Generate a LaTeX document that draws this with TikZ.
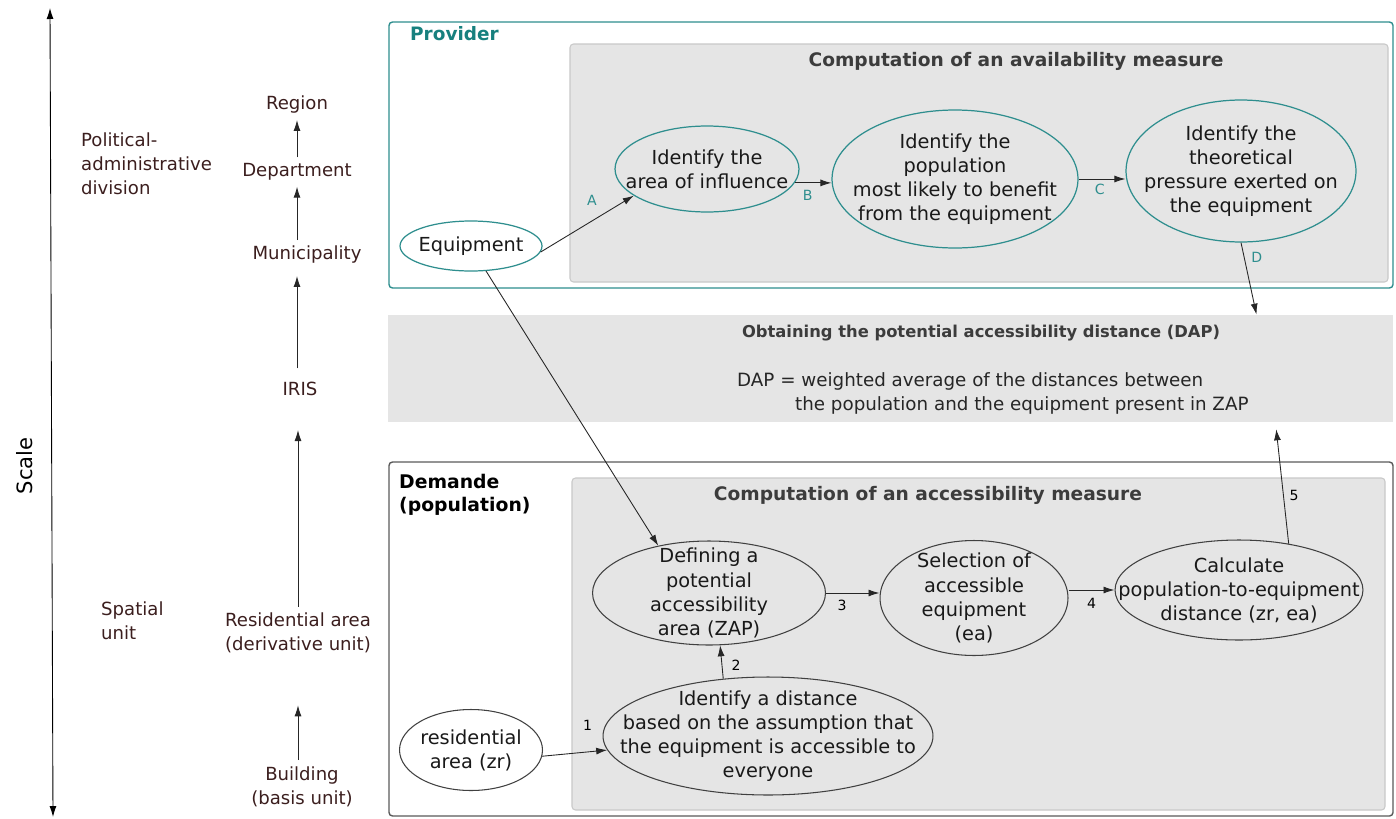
\documentclass[tikz,border=0pt]{standalone}
\usepackage{fontspec}
\setmainfont{DejaVu Sans}
\usetikzlibrary{shapes.geometric,fit,arrows.meta}

\definecolor{tealc}{HTML}{2E8E8E}
\definecolor{provc}{HTML}{17807E}
\definecolor{brownc}{HTML}{3B1E1E}
\definecolor{boxgrey}{HTML}{E5E5E5}
\definecolor{edgegrey}{HTML}{C9C9C9}
\definecolor{titlegrey}{HTML}{3C3C3C}
\definecolor{demc}{HTML}{5A5A5A}

\begin{document}
\begin{tikzpicture}[x=0.02cm,y=-0.02cm,
		>={Latex[length=2.2mm,width=1.4mm]},
		arr/.style={->,draw=black!85,line width=0.5pt},
		txt/.style={font=\fontsize{11}{13.7}\selectfont,align=center,text=black!90},
		tealell/.style={ellipse,draw=tealc,line width=0.7pt,inner sep=-4cm,txt},
		greyell/.style={ellipse,draw=black!75,line width=0.6pt,inner sep=-4cm,txt},
		outerbox/.style={rectangle,rounded corners=2pt,inner sep=0pt,line width=0.8pt},
		compbox/.style={rectangle,rounded corners=2pt,inner sep=0pt,fill=boxgrey,draw=edgegrey,line width=0.6pt},
		sectitle/.style={font=\fontsize{10.6}{13}\selectfont\bfseries,text=titlegrey},
		levellbl/.style={font=\fontsize{10.3}{13.7}\selectfont,text=brownc,align=center},
		grouplbl/.style={font=\fontsize{10.3}{13.7}\selectfont,text=brownc,align=left,anchor=west},
		lblteal/.style={font=\fontsize{8}{9}\selectfont,text=tealc,inner sep=1pt},
		lblnum/.style={font=\fontsize{8}{9}\selectfont,text=black,inner sep=1pt}
	]
	\useasboundingbox (0,0) rectangle (1396,818);
	
	% scale axis
	\coordinate (stop) at (50,8);
	\coordinate (sbot) at (53,817);
	\draw[<->,line width=0.5pt] (sbot) -- (stop);
	\node[font=\fontsize{12}{14}\selectfont,rotate=90] (scale) at (25,466) {Scale};
	
	% levels
	\node[levellbl] (region) at (297,105) {Region};
	\node[levellbl] (dept) at (297,172) {Department};
	\node[levellbl] (munic) at (307,255) {Municipality};
	\node[levellbl] (iris) at (300,389) {IRIS};
	\node[levellbl] (resid) at (298,633) {Residential area\\(derivative unit)};
	\node[levellbl] (bldg) at (302,787) {Building\\(basis unit)};
	\node[grouplbl] (polit) at (75,164) {Political-\\administrative\\division};
	\node[grouplbl] (spat) at (95,621) {Spatial\\unit};
	
	\draw[arr] (dept.north) -- (region.south);
	\draw[arr] (munic.north -| dept.south) -- (dept.south);
	\draw[arr,shorten <=1.5mm,shorten >=1.2mm] (iris.north -| dept.south) -- (munic.south -| dept.south);
	\draw[arr,shorten >=5.6mm] (resid.north) -- (iris.south -| resid.north);
	\draw[arr,shorten <=0.1mm,shorten >=9.2mm] (bldg.north -| resid.south) -- (resid.south);
	
	% boxes
	\node[outerbox,draw=tealc,fill=white,fit={(389,22) (1393,288)}] (prov) {};
	\node[compbox,fit={(570,44) (1388,282)}] (avail) {};
	\node[rectangle,inner sep=0pt,fill=boxgrey,fit={(388,315) (1393,422)}] (dap) {};
	\node[outerbox,draw=demc,fill=white,fit={(389,462) (1393,816)}] (dem) {};
	\node[compbox,fit={(572,478) (1385,810)}] (access) {};
	
	\node[font=\fontsize{10.5}{13}\selectfont\bfseries,text=provc,anchor=west] (provt) at (404,34) {Provider};
	\node[sectitle] (availt) at (1016,61) {Computation of an availability measure};
	\node[font=\fontsize{9.3}{12}\selectfont\bfseries,text=titlegrey] (dapt) at (981,333) {Obtaining the potential accessibility distance (DAP)};
	\node[font=\fontsize{10.4}{13.7}\selectfont,align=left,anchor=west,text=black!85] (dapf) at (731,393)
		{DAP = weighted average of the distances between\\\hspace*{1.16cm}the population and the equipment present in ZAP};
	\node[font=\fontsize{10.7}{13.2}\selectfont\bfseries,align=left,anchor=west] (demt) at (393,495) {Demande\\(population)};
	\node[sectitle] (accesst) at (928,495) {Computation of an accessibility measure};
	
	% provider steps
	\node[tealell,fill=white,minimum width=2.84cm,minimum height=1.0cm] (eq) at (471,246) {Equipment};
	\node[tealell,minimum width=3.68cm,minimum height=1.72cm] (infl) at (707,169) {Identify the\\area of influence};
	\node[tealell,minimum width=4.92cm,minimum height=2.76cm] (popn) at (955,179) {Identify the\\population\\most likely to benefit\\from the equipment};
	\node[tealell,minimum width=4.6cm,minimum height=2.84cm] (press) at (1241,171) {Identify the\\theoretical\\pressure exerted on\\the equipment};
	
	% demand steps
	\node[greyell,minimum width=4.66cm,minimum height=2.08cm] (zap) at (709,593) {Defining a\\potential\\accessibility\\area (ZAP)};
	\node[greyell,minimum width=3.76cm,minimum height=2.3cm] (sel) at (974,598) {Selection of\\accessible\\equipment\\(ea)};
	\node[greyell,minimum width=4.96cm,minimum height=2.0cm] (calc) at (1239,590) {Calculate\\population-to-equipment\\distance (zr, ea)};
	\node[greyell,minimum width=6.6cm,minimum height=2.36cm] (dist) at (768,736) {Identify a distance\\based on the assumption that\\the equipment is accessible to\\everyone};
	\node[greyell,fill=white,minimum width=2.86cm,minimum height=1.62cm] (zr) at (471,750) {residential\\area (zr)};
	
	% connectors
	\draw[arr] (eq.-5) -- (infl.200) node[lblteal,pos=0.55,above=2.6mm] {A};
	\draw[arr] (infl.-9) -- (infl.-9 -| popn.west) node[lblteal,pos=0.35,below=1mm] {B};
	\draw[arr] (popn.east) -- (popn.east -| press.west) node[lblteal,pos=0.45,below=0.6mm] {C};
	\draw[arr] (press.south) -- ([xshift=17.38cm]dap.north west) node[lblteal,pos=0.2,right=1mm] {D};
	\draw[arr] (eq.-59) -- (zap.137);
	\draw[arr] (zr.-5) -- (dist.185) node[lblnum,pos=0.7,above=3.8mm] {1};
	\draw[arr] (dist.128) -- (zap.-78) node[lblnum,pos=0.4,right=1.5mm] {2};
	\draw[arr] (zap.east) -- (zap.east -| sel.west) node[lblnum,pos=0.3,below=1mm] {3};
	\draw[arr] (calc.west -| sel.east) -- (calc.west) node[lblnum,pos=0.5,below=1.2mm] {4};
	\draw[arr,shorten >=1.4mm] (calc.43) -- ([xshift=17.76cm]dap.south west) node[lblnum,pos=0.4,right=0.8mm] {5};
\end{tikzpicture}
\end{document}
